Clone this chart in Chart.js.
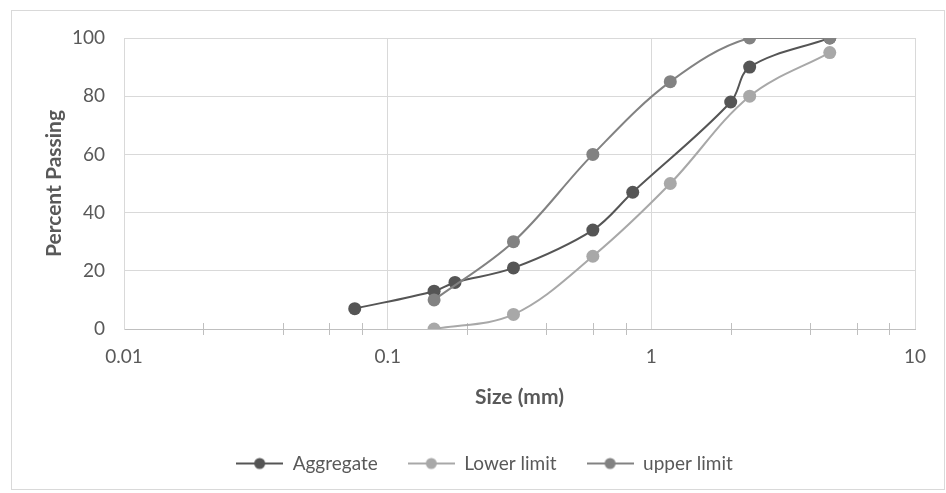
<!DOCTYPE html>
<html>
<head>
<meta charset="utf-8">
<script src="https://cdn.jsdelivr.net/npm/chart.js@4/dist/chart.umd.min.js"></script>
<style>
  html, body { margin: 0; padding: 0; background: #ffffff; }
  #wrap { position: absolute; left: 0; top: 0; width: 946px; height: 493px; }
</style>
</head>
<body>
<div id="wrap"><canvas id="c" width="946" height="493"></canvas></div>
<script>
// Sieve sizes (mm) and percent passing for each curve
const aggregateSizes = [0.075, 0.15, 0.18, 0.3, 0.6, 0.85, 2.0, 2.36, 4.75];
const aggregatePassing = [7, 13, 16, 21, 34, 47, 78, 90, 100];

const limitSizes = [0.15, 0.3, 0.6, 1.18, 2.36, 4.75];
const lowerPassing = [0, 5, 25, 50, 80, 95];
const upperPassing = [10, 30, 60, 85, 100, 100];

const seriesNames = ['Aggregate', 'Lower limit', 'upper limit'];
const xTickValues = [0.01, 0.02, 0.04, 0.06, 0.08, 0.1, 0.2, 0.4, 0.6, 0.8, 1, 2, 4, 6, 8, 10];
const yTickStep = 20;

const toPoints = (xs, ys) => xs.map((x, i) => ({ x: x, y: ys[i] }));
const isDecade = v => Math.abs(Math.log10(v) - Math.round(Math.log10(v))) < 1e-9;

// legend swatch: short line with a dot in the middle
function swatch(color) {
  const c = document.createElement('canvas');
  c.width = 47; c.height = 16;
  const g = c.getContext('2d');
  g.strokeStyle = color; g.lineWidth = 2;
  g.beginPath(); g.moveTo(0, 8); g.lineTo(47, 8); g.stroke();
  g.fillStyle = color;
  g.beginPath(); g.arc(23.5, 8, 5.5, 0, Math.PI * 2); g.fill();
  return c;
}

const colors = ['#555555', '#a8a8a8', '#828282'];
const swatches = colors.map(swatch);

const frame = {
  id: 'frame',
  beforeDraw(chart) {
    const ctx = chart.ctx;
    ctx.save();
    ctx.fillStyle = '#ffffff';
    ctx.fillRect(0, 0, chart.width, chart.height);
    ctx.strokeStyle = '#d9d9d9';
    ctx.lineWidth = 1;
    ctx.strokeRect(11.5, 10.5, 933, 479);
    ctx.restore();
  },
  beforeDatasetsDraw(chart) {
    // minor tick marks crossing the x axis line
    const xs = chart.scales.x, ys = chart.scales.y;
    const ctx = chart.ctx;
    const y0 = ys.getPixelForValue(0);
    ctx.save();
    ctx.strokeStyle = '#bfbfbf';
    ctx.lineWidth = 1;
    xTickValues.forEach(v => {
      if (isDecade(v)) return;
      const px = Math.round(xs.getPixelForValue(v)) + 0.5;
      ctx.beginPath(); ctx.moveTo(px, y0 - 6); ctx.lineTo(px, y0 + 6); ctx.stroke();
    });
    ctx.restore();
  }
};

const font = "Lato, 'Open Sans', sans-serif";

new Chart(document.getElementById('c'), {
  type: 'scatter',
  data: {
    datasets: [
      { label: seriesNames[0], data: toPoints(aggregateSizes, aggregatePassing), order: 3 },
      { label: seriesNames[1], data: toPoints(limitSizes, lowerPassing), order: 2 },
      { label: seriesNames[2], data: toPoints(limitSizes, upperPassing), order: 1 }
    ].map((d, i) => Object.assign(d, {
      showLine: true,
      tension: 0.35,
      borderColor: colors[i],
      backgroundColor: colors[i],
      borderWidth: 2,
      pointRadius: 6.5,
      pointHoverRadius: 6.5,
      pointBorderWidth: 0,
      pointStyle: 'circle'
    }))
  },
  options: {
    responsive: false,
    animation: false,
    events: [],
    layout: { padding: { top: 38, right: 31, left: 54, bottom: 10 } },
    scales: {
      x: {
        type: 'logarithmic',
        min: 0.01,
        max: 10,
        afterBuildTicks: s => { s.ticks = xTickValues.map(v => ({ value: v })); },
        afterFit: s => { s.height = 95; },
        grid: {
          color: c => (c.tick && isDecade(c.tick.value)) ? '#d9d9d9' : 'rgba(0,0,0,0)',
          drawTicks: false
        },
        border: { color: '#bfbfbf', width: 1 },
        ticks: {
          autoSkip: false,
          maxRotation: 0,
          padding: 16,
          color: '#595959',
          font: { family: font, size: 19 },
          callback: v => isDecade(v) ? String(+v.toPrecision(3)) : ''
        },
        title: {
          display: true,
          text: 'Size (mm)',
          color: '#595959',
          font: { family: font, size: 21, weight: 'bold' },
          padding: { top: 0, bottom: 14 }
        }
      },
      y: {
        min: 0,
        max: 100,
        afterFit: s => { s.width = 70; },
        ticks: {
          stepSize: yTickStep,
          padding: 19,
          color: '#595959',
          font: { family: font, size: 19 }
        },
        grid: { color: '#d9d9d9', drawTicks: false },
        border: { color: '#d9d9d9' },
        title: {
          display: true,
          text: 'Percent Passing',
          color: '#595959',
          font: { family: font, size: 21, weight: 'bold' },
          padding: { top: -12, bottom: 0 }
        }
      }
    },
    plugins: {
      tooltip: { enabled: false },
      legend: {
        position: 'bottom',
        labels: {
          usePointStyle: true,
          pointStyleWidth: 47,
          padding: 30,
          color: '#595959',
          font: { family: font, size: 19 },
          generateLabels: chart => chart.data.datasets.map((d, i) => ({
            text: d.label,
            pointStyle: swatches[i],
            fillStyle: colors[i],
            strokeStyle: colors[i],
            fontColor: '#595959',
            lineWidth: 0,
            hidden: false,
            datasetIndex: i
          }))
        }
      }
    }
  },
  plugins: [frame]
});
</script>
</body>
</html>
